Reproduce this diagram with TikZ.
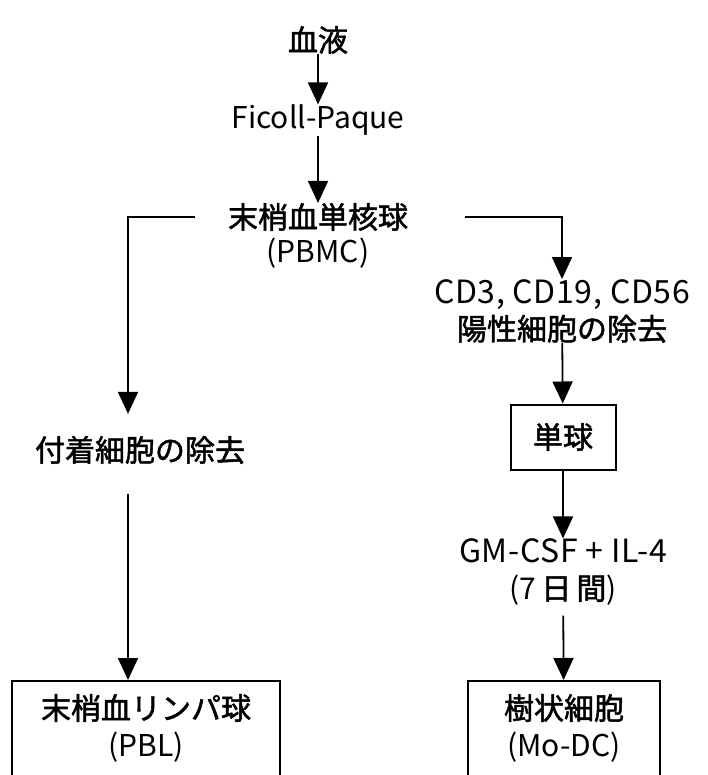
\documentclass[tikz,border=0pt]{standalone}
\usepackage{fontspec}
\setmainfont{Noto Sans CJK JP}
\newfontfamily\cjk{Noto Sans CJK JP}[FakeBold=1.6]
\usetikzlibrary{arrows.meta}
\begin{document}
\begin{tikzpicture}[x=1pt,y=-1pt,
  lbl/.style={font=\fontsize{30}{37}\selectfont, inner sep=0pt, align=center},
  frame/.style={draw, line width=2pt, inner sep=0pt},
  arr/.style={line width=1.8pt, -{Triangle[width=20pt,length=22pt]}}]
\useasboundingbox (0,0) rectangle (708,775);
\clip (0,0) rectangle (708,775);

\node[lbl] (blood) at (318,40) {\cjk 血液};
\node[lbl] (ficoll) at (318,120) {Ficoll-Paque};
\node[lbl] (pbmc) at (318,217) {\cjk 末梢血単核球};
\node[lbl] (pbmcab) at (318,253) {(PBMC)};
\node[lbl] (adh) at (140,450) {\cjk 付着細胞の除去};
\node[lbl] (cd) at (562,311) {{\fontsize{32}{37}\selectfont\addfontfeature{LetterSpace=2}CD3, CD19, CD56}\\{\cjk 陽性細胞の除去}};
\node[lbl, frame, minimum width=105pt, minimum height=65pt] (mono) at (563,437) {\cjk 単球};
\node[lbl] (gm) at (563,572) {{\fontsize{32}{37}\selectfont\addfontfeature{LetterSpace=2}GM-CSF + IL-4}\\(7\,{\cjk 日}\,{\cjk 間})};
\node[frame, minimum width=268pt, minimum height=130pt, anchor=north,
  label={[lbl, anchor=north, yshift=-14pt]north:{{\cjk 末梢血リンパ球}\\(PBL)}}] (pbl) at (146,680) {};
\node[frame, minimum width=192pt, minimum height=130pt, anchor=north,
  label={[lbl, anchor=north, yshift=-14pt]north:{{\cjk 樹状細胞}\\(Mo-DC)}}] (dc) at (564,680) {};

\draw[arr] (blood) -- (ficoll);
\draw[arr] (ficoll) -- (pbmc);
\draw[arr, shorten <=33pt, shorten >=22pt] (pbmc.west) -| ([xshift=-12pt]adh.north);
\draw[arr, shorten <=57pt] (pbmc.east) -| (cd.north);
\draw[arr] (cd) -- (mono);
\draw[arr] (mono) -- (gm);
\draw[arr, shorten <=10pt] (gm) -- (dc);
\draw[arr, shorten <=30pt] ([xshift=-12pt]adh.south) -- ([xshift=-18pt]pbl.north);
\end{tikzpicture}
\end{document}
